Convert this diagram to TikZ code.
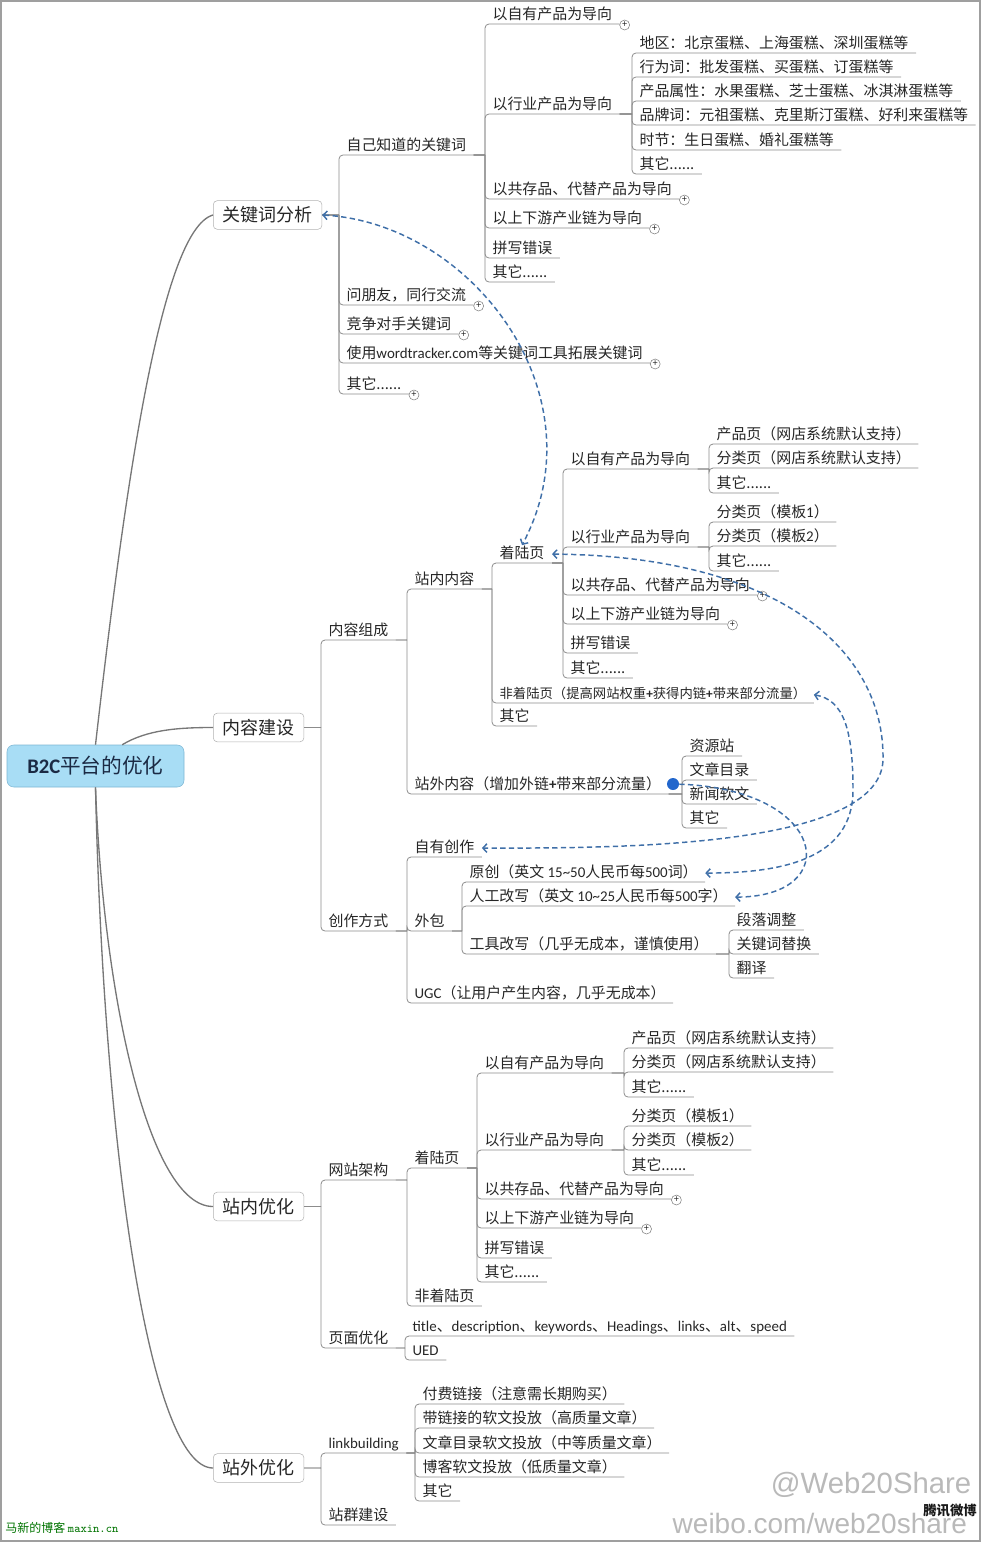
\documentclass[tikz,border=0pt]{standalone}
\usepackage{fontspec}
\setmainfont{Noto Sans CJK SC}
\newfontfamily\lat{Carlito}
\newfontfamily\markfont{Liberation Sans}
\usepackage{xcolor}
\usepackage{tikz}
\usetikzlibrary{positioning, arrows.meta}

\definecolor{linegray}{HTML}{8C8C8C}
\definecolor{inkgray}{HTML}{262626}
\definecolor{relblue}{HTML}{3F6FA8}
\definecolor{dotblue}{HTML}{2266CC}
\definecolor{rootblue}{HTML}{A8DDF5}
\definecolor{rootedge}{HTML}{7DB6D3}
\definecolor{rootink}{HTML}{1B2A44}

\tikzset{
  topic/.style={anchor=south west, inner xsep=5.5pt, inner ysep=1pt, text height=9pt, text depth=2pt,
    text=inkgray, font=\fontsize{11.2}{13}\selectfont},
  small/.style={text height=8pt, text depth=2pt, font=\fontsize{10}{12}\selectfont},
  mainbox/.style={draw=gray!60, fill=white, rounded corners=3pt, anchor=west, inner xsep=7pt,
    minimum height=21.5pt, text=inkgray, font=\fontsize{13.5}{16}\selectfont},
  rootbox/.style={draw=rootedge, fill=rootblue, rounded corners=5pt, minimum width=132.75pt,
    minimum height=31.5pt, text=rootink, font=\fontsize{15.5}{18}\selectfont},
  link/.style={draw=linegray, line width=0.6pt},
  branch/.style={link, rounded corners=3pt,
    to path={(\tikztostart) -- (\tikztostart -| \tikztotarget.south west)
      (\tikztostart -| \tikztotarget.south west) |- (\tikztotarget.south east)}},
  trunk/.style={draw=linegray!85!black, line width=1pt},
  rel/.style={draw=relblue, line width=1.1pt, dash pattern=on 4pt off 2.5pt,
    >={Straight Barb[length=3pt,width=6.5pt]}},
  plus/.style={circle, draw=gray, fill=white, minimum size=7.5pt, inner sep=0pt,
    text=inkgray, font=\fontsize{7}{7}\selectfont},
}

\begin{document}
\begin{tikzpicture}[x=0.75pt, y=-0.75pt]
  \useasboundingbox (0,0) rectangle (981,1542);
  \draw[gray!75, line width=1.2pt] (0.8,0.8) rectangle (980.2,1541.2);

  \node[rootbox] (root) at (95.5,766) {{\lat\bfseries B2C}平台的优化};
  \node[mainbox] (kw) at (213,215) {关键词分析};
  \node[mainbox] (ct) at (213,727.5) {内容建设};
  \node[mainbox] (io) at (213,1206.5) {站内优化};
  \node[mainbox] (oo) at (213,1468) {站外优化};

  % 关键词分析
  \node[topic] (kw1) at (339,155) {自己知道的关键词};
  \node[topic] (kw2) at (339,305) {问朋友，同行交流};
  \node[topic] (kw3) at (339,334) {竞争对手关键词};
  \node[topic] (kw4) at (339,363) {使用{\lat wordtracker.com}等关键词工具拓展关键词};
  \node[topic] (kw5) at (339,394) {其它......};

  \node[topic] (a1) at (485,24) {以自有产品为导向};
  \node[topic] (a2) at (485,114) {以行业产品为导向};
  \node[topic] (a3) at (485,199) {以共存品、代替产品为导向};
  \node[topic] (a4) at (485,228) {以上下游产业链为导向};
  \node[topic] (a5) at (485,258) {拼写错误};
  \node[topic] (a6) at (485,282) {其它......};

  \node[topic] (b1) at (632,53) {地区：北京蛋糕、上海蛋糕、深圳蛋糕等};
  \node[topic] (b2) at (632,77) {行为词：批发蛋糕、买蛋糕、订蛋糕等};
  \node[topic] (b3) at (632,101) {产品属性：水果蛋糕、芝士蛋糕、冰淇淋蛋糕等};
  \node[topic] (b4) at (632,125) {品牌词：元祖蛋糕、克里斯汀蛋糕、好利来蛋糕等};
  \node[topic] (b5) at (632,150) {时节：生日蛋糕、婚礼蛋糕等};
  \node[topic] (b6) at (632,174) {其它......};

  % 内容建设
  \node[topic] (c1) at (321,640) {内容组成};
  \node[topic] (c2) at (321,931) {创作方式};

  \node[topic] (d1) at (407,589) {站内内容};
  \node[topic] (d2) at (407,794) {站外内容（增加外链{\lat\bfseries +}带来部分流量）};

  \node[topic] (e1) at (492,563) {着陆页};
  \node[topic, small] (e2) at (492,703) {非着陆页（提高网站权重{\lat\bfseries +}获得内链{\lat\bfseries +}带来部分流量）};
  \node[topic] (e3) at (492,726) {其它};

  \node[topic] (f1) at (563,469) {以自有产品为导向};
  \node[topic] (f2) at (563,547) {以行业产品为导向};
  \node[topic] (f3) at (563,595) {以共存品、代替产品为导向};
  \node[topic] (f4) at (563,624) {以上下游产业链为导向};
  \node[topic] (f5) at (563,653) {拼写错误};
  \node[topic] (f6) at (563,678) {其它......};

  \node[topic] (g1) at (709,444) {产品页（网店系统默认支持）};
  \node[topic] (g2) at (709,468) {分类页（网店系统默认支持）};
  \node[topic] (g3) at (709,493) {其它......};
  \node[topic] (g4) at (709,522) {分类页（模板{\lat 1}）};
  \node[topic] (g5) at (709,546) {分类页（模板{\lat 2}）};
  \node[topic] (g6) at (709,571) {其它......};

  \node[topic] (h1) at (682,756) {资源站};
  \node[topic] (h2) at (682,780) {文章目录};
  \node[topic] (h3) at (682,804) {新闻软文};
  \node[topic] (h4) at (682,828) {其它};
  \node[circle, fill=dotblue, inner sep=0pt, minimum size=9pt] (dot) at (673,784) {};

  \node[topic] (i1) at (407,857) {自有创作};
  \node[topic] (i2) at (407,931) {外包};
  \node[topic] (i3) at (407,1003) {{\lat UGC}（让用户产生内容，几乎无成本）};

  \node[topic] (j1) at (462,882) {原创（英文 {\lat 15\textasciitilde50}人民币每{\lat 500}词）};
  \node[topic] (j2) at (462,906) {人工改写（英文 {\lat 10\textasciitilde25}人民币每{\lat 500}字）};
  \node[topic] (j3) at (462,954) {工具改写（几乎无成本，谨慎使用）};

  \node[topic] (k1) at (729,930) {段落调整};
  \node[topic] (k2) at (729,954) {关键词替换};
  \node[topic] (k3) at (729,978) {翻译};

  % 站内优化
  \node[topic] (l1) at (321,1180) {网站架构};
  \node[topic] (l2) at (321,1348) {页面优化};

  \node[topic] (m1) at (407,1168) {着陆页};
  \node[topic] (m2) at (407,1306) {非着陆页};

  \node[topic] (n1) at (477,1073) {以自有产品为导向};
  \node[topic] (n2) at (477,1150) {以行业产品为导向};
  \node[topic] (n3) at (477,1199) {以共存品、代替产品为导向};
  \node[topic] (n4) at (477,1228) {以上下游产业链为导向};
  \node[topic] (n5) at (477,1258) {拼写错误};
  \node[topic] (n6) at (477,1282) {其它......};

  \node[topic] (o1) at (624,1048) {产品页（网店系统默认支持）};
  \node[topic] (o2) at (624,1072) {分类页（网店系统默认支持）};
  \node[topic] (o3) at (624,1097) {其它......};
  \node[topic] (o4) at (624,1126) {分类页（模板{\lat 1}）};
  \node[topic] (o5) at (624,1150) {分类页（模板{\lat 2}）};
  \node[topic] (o6) at (624,1175) {其它......};

  \node[topic] (q1) at (405,1336) {{\lat title}、{\lat description}、{\lat keywords}、{\lat Headings}、{\lat links}、{\lat alt}、{\lat speed}};
  \node[topic] (q2) at (405,1360) {{\lat UED}};

  % 站外优化
  \node[topic] (r1) at (321,1453) {{\lat linkbuilding}};
  \node[topic] (r2) at (321,1525) {站群建设};

  \node[topic] (s1) at (415,1404) {付费链接（注意需长期购买）};
  \node[topic] (s2) at (415,1428) {带链接的软文投放（高质量文章）};
  \node[topic] (s3) at (415,1453) {文章目录软文投放（中等质量文章）};
  \node[topic] (s4) at (415,1477) {博客软文投放（低质量文章）};
  \node[topic] (s5) at (415,1501) {其它};

  % trunk curves
  \draw[trunk] (root.north) .. controls +(28,-245) and +(-53,15) .. (kw.west);
  \draw[trunk] ([xshift=20pt]root.north) .. controls +(25,-15) and +(-35,0) .. (ct.west);
  \draw[trunk] (root.south) .. controls +(8,213) and +(-63,0) .. (io.west);
  \draw[trunk] (root.south) .. controls +(8,363) and +(-63,0) .. (oo.west);

  % tree links
  \path[branch] (kw.east) edge (kw1) edge (kw2) edge (kw3) edge (kw4) edge (kw5);
  \path[branch] (kw1.south east) edge (a1) edge (a2) edge (a3) edge (a4) edge (a5) edge (a6);
  \path[branch] (a2.south east) edge (b1) edge (b2) edge (b3) edge (b4) edge (b5) edge (b6);

  \path[branch] (ct.east) edge (c1) edge (c2);
  \path[branch] (c1.south east) edge (d1) edge (d2);
  \path[branch] (d1.south east) edge (e1) edge (e2) edge (e3);
  \path[branch] (e1.south east) edge (f1) edge (f2) edge (f3) edge (f4) edge (f5) edge (f6);
  \path[branch] (f1.south east) edge (g1) edge (g2) edge (g3);
  \path[branch] (f2.south east) edge (g4) edge (g5) edge (g6);
  \path[branch] (d2.south east) edge (h1) edge (h2) edge (h3) edge (h4);
  \path[branch] (c2.south east) edge (i1) edge (i2) edge (i3);
  \path[branch] (i2.south east) edge (j1) edge (j2) edge (j3);
  \path[branch] (j3.south east) edge (k1) edge (k2) edge (k3);

  \path[branch] (io.east) edge (l1) edge (l2);
  \path[branch] (l1.south east) edge (m1) edge (m2);
  \path[branch] (m1.south east) edge (n1) edge (n2) edge (n3) edge (n4) edge (n5) edge (n6);
  \path[branch] (n1.south east) edge (o1) edge (o2) edge (o3);
  \path[branch] (n2.south east) edge (o4) edge (o5) edge (o6);
  \path[branch] (l2.south east) edge (q1) edge (q2);

  \path[branch] (oo.east) edge (r1) edge (r2);
  \path[branch] (r1.south east) edge (s1) edge (s2) edge (s3) edge (s4) edge (s5);

  % collapsed markers
  \node[plus] (pkw2) at ([shift={(5,1)}]kw2.south east) {+};
  \node[plus] (pkw3) at ([shift={(5,1)}]kw3.south east) {+};
  \node[plus] (pkw4) at ([shift={(5,1)}]kw4.south east) {+};
  \node[plus] (pkw5) at ([shift={(5,1)}]kw5.south east) {+};
  \node[plus] (pa1) at ([shift={(5,1)}]a1.south east) {+};
  \node[plus] (pa3) at ([shift={(5,1)}]a3.south east) {+};
  \node[plus] (pa4) at ([shift={(5,1)}]a4.south east) {+};
  \node[plus] (pf3) at ([shift={(5,1)}]f3.south east) {+};
  \node[plus] (pf4) at ([shift={(5,1)}]f4.south east) {+};
  \node[plus] (pn3) at ([shift={(5,1)}]n3.south east) {+};
  \node[plus] (pn4) at ([shift={(5,1)}]n4.south east) {+};

  % relationships
  \draw[rel, <->] (kw.east) .. controls +(150,8) and +(80,-150) .. (e1.north);
  \draw[rel, <->] (e1.east) .. controls +(227,2) and +(2,-110) .. (883,760)
    .. controls +(-3,90) and +(123,0) .. (i1.east);
  \draw[rel, <->] (e2.east) .. controls +(30,5) and +(0,-60) .. (853,790)
    .. controls +(0,70) and +(75,0) .. (j1.east);
  \draw[rel, ->] (dot) .. controls +(155,5) and +(110,0) .. (j2.east);

  % marks
  \node[anchor=south east, text=gray!55, font=\markfont\fontsize{22}{22}\selectfont] (mark1) at (976,1502) {@Web20Share};
  \node[anchor=south west, text=gray!55, font=\markfont\fontsize{21}{21}\selectfont] (mark2) at (668,1538) {weibo.com/web20share};
  \node[text=gray!20!black, font=\bfseries\fontsize{10}{12}\selectfont] (mark3) at (950,1510) {腾讯微博};
  \node[anchor=west, inner sep=0pt, text=green!45!black, font=\fontsize{9}{10}\selectfont] (blog) at (5,1528) {马新的博客 {\ttfamily maxin.cn}};
\end{tikzpicture}
\end{document}
